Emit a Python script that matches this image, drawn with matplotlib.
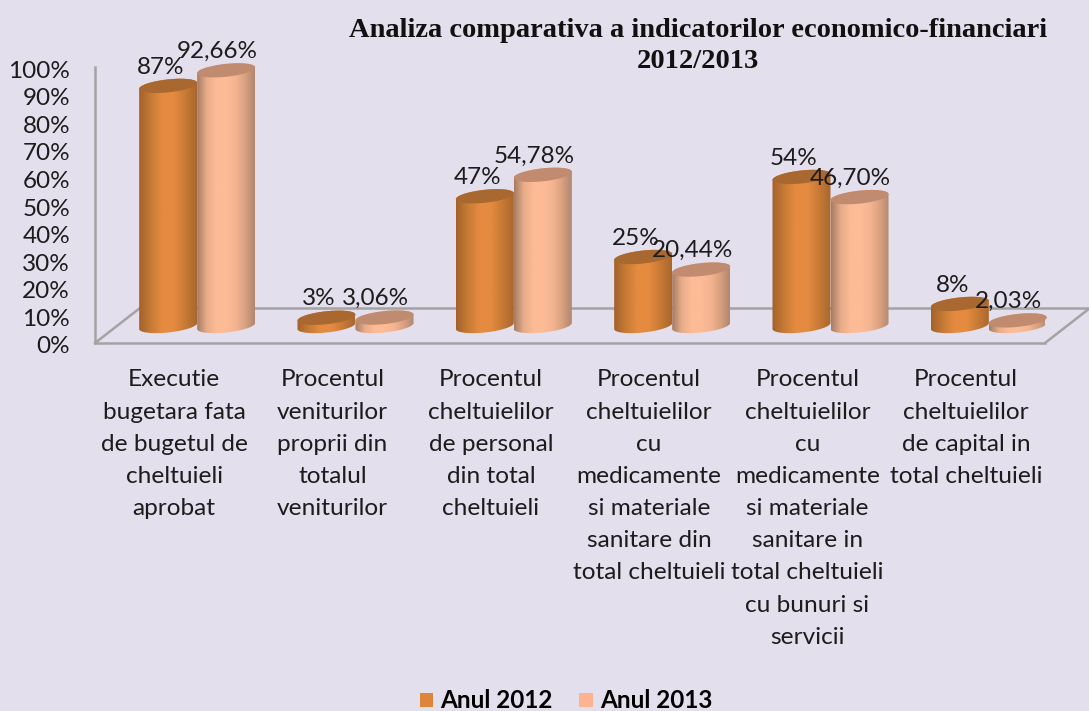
import numpy as np
import matplotlib
matplotlib.use("Agg")
import matplotlib.pyplot as plt
from matplotlib.colors import LinearSegmentedColormap
from matplotlib.patches import PathPatch, Patch
from matplotlib.path import Path
from matplotlib.transforms import ScaledTranslation

plt.rcParams['font.family'] = ['Lato', 'DejaVu Sans']

categories = [
    "Executie\nbugetara fata\nde bugetul de\ncheltuieli\naprobat",
    "Procentul\nveniturilor\nproprii din\ntotalul\nveniturilor",
    "Procentul\ncheltuielilor\nde personal\ndin total\ncheltuieli",
    "Procentul\ncheltuielilor\ncu\nmedicamente\nsi materiale\nsanitare din\ntotal cheltuieli",
    "Procentul\ncheltuielilor\ncu\nmedicamente\nsi materiale\nsanitare in\ntotal cheltuieli\ncu bunuri si\nservicii",
    "Procentul\ncheltuielilor\nde capital in\ntotal cheltuieli",
]
anul_2012 = [87, 3, 47, 25, 54, 8]
anul_2013 = [92.66, 3.06, 54.78, 20.44, 46.70, 2.03]
labels_2012 = ["87%", "3%", "47%", "25%", "54%", "8%"]
labels_2013 = ["92,66%", "3,06%", "54,78%", "20,44%", "46,70%", "2,03%"]
yticks = list(range(0, 101, 10))

BG = "#E4DFEC"
TXT = "#1c1c1c"
GREY = "#A3A3A3"
W, H = 1089, 711

# axes box in pixels, front floor edge and 100% level
L, R, T, B = 95, 1045, 67, 343
fig = plt.figure(figsize=(W / 100, H / 100), dpi=100, facecolor=BG)
ax = fig.add_axes([L / W, 1 - B / H, (R - L) / W, (B - T) / H], facecolor="none")
ax.set_xlim(0, 6)
ax.set_ylim(0, 100)
px_x = 6 / (R - L)
px_y = 100 / (B - T)

orange = LinearSegmentedColormap.from_list("o", ["#A3622B", "#C67A35", "#E58B40", "#E58B40", "#C87A36", "#A8672E"])
peach = LinearSegmentedColormap.from_list("p", ["#A67C63", "#E8AC8A", "#FDBB96", "#FDBB96", "#F5B491", "#D9A180", "#B08770"])
top_colors = ["#A96830", "#C08B6E"]
base = 17 * px_y
half_w = 29 * px_x
ell_h = 6.5 * px_y
tilt = 3 * px_y


def ellipse_pts(cx, cy, t):
    return np.column_stack([cx + half_w * np.cos(t), cy + ell_h * np.sin(t) + tilt * np.cos(t)])


def cylinder(cx, val, cmap, top_color):
    y0 = base
    y1 = base + val
    lower = ellipse_pts(cx, y0, np.linspace(np.pi, 2 * np.pi, 40))
    upper = ellipse_pts(cx, y1, np.linspace(0, np.pi, 40))
    body = np.vstack([lower, upper, lower[:1]])
    clip = PathPatch(Path(body), transform=ax.transData, fc="none", ec="none")
    ax.add_patch(clip)
    grad = np.linspace(0, 1, 128).reshape(1, -1)
    im = ax.imshow(grad, cmap=cmap, aspect="auto", interpolation="bilinear", zorder=3,
                   extent=[cx - half_w, cx + half_w, y0 - 3 * ell_h, y1 + 3 * ell_h])
    im.set_clip_path(clip)
    top = ellipse_pts(cx, y1, np.linspace(0, 2 * np.pi, 80))
    ax.add_patch(PathPatch(Path(top), fc=top_color, ec="none", zorder=3.1, clip_on=False))


# floor of the 3d box
depth_x = 45 * px_x
depth_y = 35 * px_y
ax.plot([0, depth_x], [0, depth_y], color=GREY, lw=1.8, clip_on=False, zorder=1)
ax.plot([depth_x, 6 + depth_x], [depth_y, depth_y], color=GREY, lw=1.8, clip_on=False, zorder=1)
ax.plot([6, 6 + depth_x], [0, depth_y], color=GREY, lw=1.8, clip_on=False, zorder=1)

for i in range(len(anul_2012)):
    mid = i + 0.5 + 23 * px_x
    cylinder(mid - half_w, anul_2012[i], orange, top_colors[0])
    cylinder(mid + half_w, anul_2013[i], peach, top_colors[1])
    ax.annotate(labels_2012[i], (mid - half_w, base + anul_2012[i]), xytext=(-5.5, 13.5),
                textcoords="offset points", ha="center", va="center", fontsize=17.5,
                color=TXT, zorder=5, annotation_clip=False)
    ax.annotate(labels_2013[i], (mid + half_w, base + anul_2013[i]), xytext=(-6.5, 13.5),
                textcoords="offset points", ha="center", va="center", fontsize=17.5,
                color=TXT, zorder=5, annotation_clip=False)

ax.set_xlim(0, 6)
ax.set_ylim(0, 100)
ax.set_yticks(yticks)
ax.set_yticklabels([f"{v}%" for v in yticks], fontsize=17.5, color=TXT)
ax.set_xticks(np.arange(6) + 0.5)
ax.set_xticklabels(categories, fontsize=17.6, color=TXT, linespacing=1.657, va="top")
ax.tick_params(axis="y", length=0, pad=18)
ax.tick_params(axis="x", length=0, pad=19)
# the percent labels sit a bit lower than matplotlib centres them
for lab in ax.get_yticklabels():
    lab.set_transform(lab.get_transform() + ScaledTranslation(0, -2 / 100, fig.dpi_scale_trans))
for s in ["top", "right"]:
    ax.spines[s].set_visible(False)
for s in ["left", "bottom"]:
    ax.spines[s].set_color(GREY)
    ax.spines[s].set_linewidth(1.8)

fig.text(698 / W, 1 - 46 / H, "Analiza comparativa a indicatorilor economico-financiari\n2012/2013",
         ha="center", va="center", fontsize=20.5, fontweight="bold", color="#111111",
         family=["Liberation Serif", "DejaVu Serif"], linespacing=1.3)

handles = [Patch(fc="#DE853C", ec="none", label="Anul 2012"), Patch(fc="#FBB48F", ec="none", label="Anul 2013")]
fig.legend(handles=handles, loc="center", bbox_to_anchor=(566 / W, 1 - 701 / H), ncol=2, frameon=False,
           prop={"size": 17.5, "weight": "bold"}, handlelength=0.55, handleheight=0.55,
           handletextpad=0.3, columnspacing=1.1, borderpad=0)

fig.savefig("out.png", dpi=100, facecolor=BG)
